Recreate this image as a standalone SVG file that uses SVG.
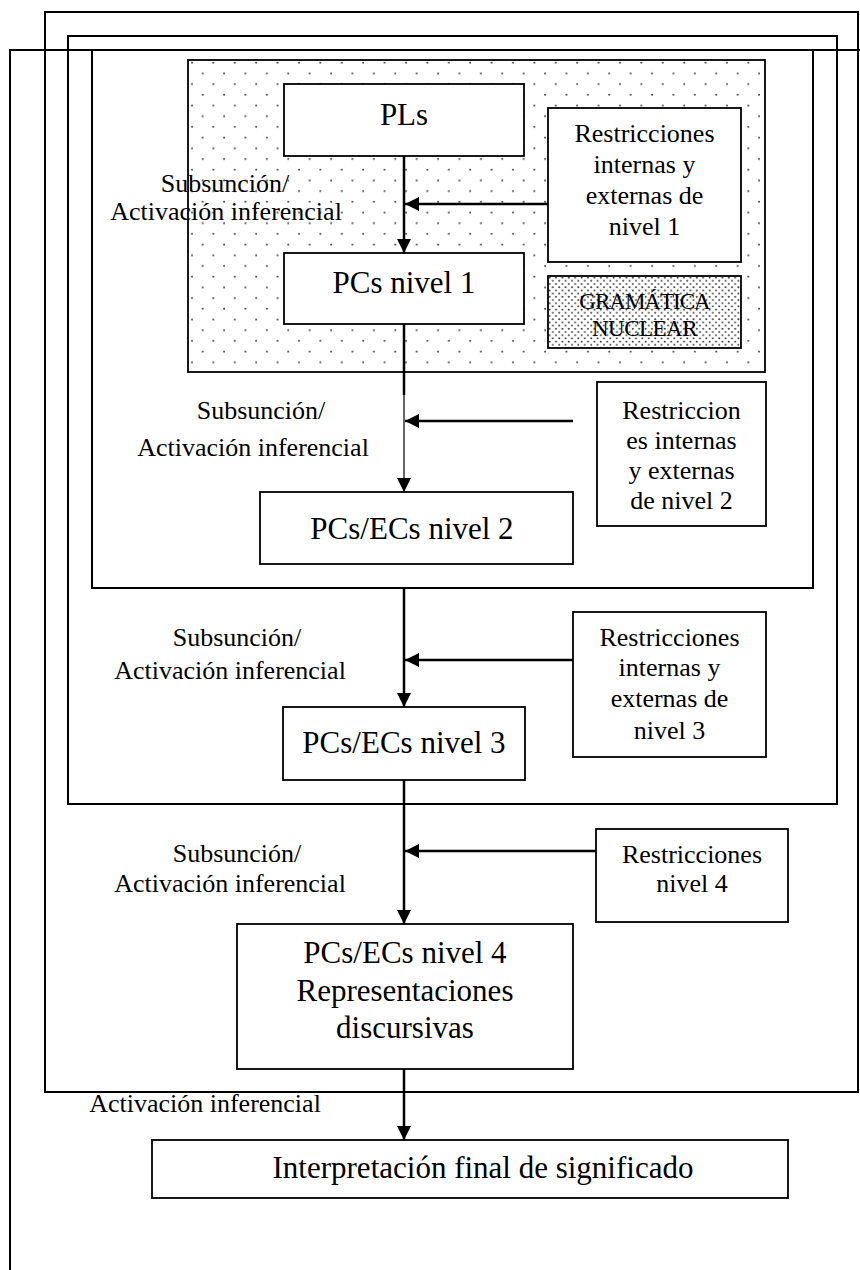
<svg xmlns="http://www.w3.org/2000/svg" width="860" height="1270" viewBox="0 0 860 1270">
<defs>
<pattern id="dots" x="188" y="60" width="21.4" height="21.4" patternUnits="userSpaceOnUse">
<rect x="0" y="0" width="21.4" height="21.4" fill="#fff"/>
<circle cx="4" cy="2.7" r="1" fill="#444"/>
<circle cx="14.7" cy="13.4" r="1" fill="#444"/>
</pattern>
<pattern id="densedots" x="548" y="276" width="6.4" height="6.4" patternUnits="userSpaceOnUse">
<rect x="0" y="0" width="6.4" height="6.4" fill="#fff"/>
<circle cx="1.6" cy="1.6" r="1" fill="#333"/>
<circle cx="4.8" cy="4.8" r="1" fill="#333"/>
</pattern>
<marker id="ah" viewBox="0 0 14 14" refX="14" refY="7" markerWidth="14" markerHeight="14" markerUnits="userSpaceOnUse" orient="auto">
<path d="M0,0 L14,7 L0,14 z" fill="#000"/>
</marker>
</defs>
<style>
.frame{fill:none;stroke:#000;stroke-width:2}
.box{fill:#fff;stroke:#000;stroke-width:1.8}
text{font-family:'Liberation Serif','DejaVu Serif',serif;fill:#000;text-anchor:middle}
.big{font-size:31px}
.mid{font-size:26px}
.lbl{font-size:26px}
.gram{font-size:23px}
.conn{stroke:#000;stroke-width:2.5;fill:none}
.thin{stroke:#000;stroke-width:1.2;fill:none}
</style>
<rect width="860" height="1270" fill="#fff"/>

<g id="frames">
<rect class="frame" x="45" y="12" width="813" height="1080"/>
<path class="frame" d="M10,1272 L10,50 L862,50"/>
<rect class="frame" x="68" y="36" width="769" height="768"/>
<rect class="frame" x="92" y="50" width="721" height="538"/>
</g>

<g id="nucleo">
<rect x="188" y="60" width="577" height="312" fill="url(#dots)" stroke="#000" stroke-width="1.8"/>
</g>

<g id="labels">
<text class="lbl" x="225" y="192">Subsunción/</text>
<text class="lbl" x="226" y="220">Activación inferencial</text>
<text class="lbl" x="261" y="419">Subsunción/</text>
<text class="lbl" x="253" y="456">Activación inferencial</text>
<text class="lbl" x="237" y="646">Subsunción/</text>
<text class="lbl" x="230" y="679">Activación inferencial</text>
<text class="lbl" x="237" y="862">Subsunción/</text>
<text class="lbl" x="230" y="892">Activación inferencial</text>
<text class="lbl" x="205" y="1112">Activación inferencial</text>
</g>

<g id="connectors">
<line class="conn" x1="404" y1="156" x2="404" y2="253" marker-end="url(#ah)"/>
<line class="conn" x1="548" y1="204" x2="405" y2="204" marker-end="url(#ah)"/>
<line class="conn" x1="404" y1="324" x2="404" y2="395"/>
<line class="thin" x1="404" y1="395" x2="404" y2="492" marker-end="url(#ah)"/>
<line class="conn" x1="573" y1="421" x2="405" y2="421" marker-end="url(#ah)"/>
<line class="conn" x1="404" y1="588" x2="404" y2="707" marker-end="url(#ah)"/>
<line class="conn" x1="573" y1="660" x2="405" y2="660" marker-end="url(#ah)"/>
<line class="conn" x1="404" y1="780" x2="404" y2="924" marker-end="url(#ah)"/>
<line class="conn" x1="596" y1="851" x2="405" y2="851" marker-end="url(#ah)"/>
<line class="conn" x1="404" y1="1069" x2="404" y2="1140" marker-end="url(#ah)"/>
</g>

<g id="pls">
<rect class="box" x="284" y="84" width="240" height="72"/>
<text class="big" x="404" y="125">PLs</text>
</g>

<g id="pcs1">
<rect class="box" x="284" y="253" width="240" height="71"/>
<text class="big" x="404" y="293">PCs nivel 1</text>
</g>

<g id="restr1">
<rect class="box" x="548" y="108" width="193" height="154"/>
<text class="mid" x="644.5" y="142">Restricciones</text>
<text class="mid" x="644.5" y="173">internas y</text>
<text class="mid" x="644.5" y="204">externas de</text>
<text class="mid" x="644.5" y="235">nivel 1</text>
</g>

<g id="gramatica">
<rect x="548" y="276" width="193" height="72" fill="url(#densedots)" stroke="#000" stroke-width="1.8"/>
<text class="gram" x="644.5" y="309" letter-spacing="-1">GRAMÁTICA</text>
<text class="gram" x="644.5" y="336" letter-spacing="-0.5">NUCLEAR</text>
</g>

<g id="restr2">
<rect class="box" x="597" y="382" width="169" height="144"/>
<text class="mid" x="681.5" y="419">Restriccion</text>
<text class="mid" x="681.5" y="449">es internas</text>
<text class="mid" x="681.5" y="479">y externas</text>
<text class="mid" x="681.5" y="509">de nivel 2</text>
</g>

<g id="pcs2">
<rect class="box" x="260" y="492" width="313" height="72"/>
<text class="big" x="412" y="539">PCs/ECs nivel 2</text>
</g>

<g id="restr3">
<rect class="box" x="573" y="612" width="193" height="145"/>
<text class="mid" x="669.5" y="646">Restricciones</text>
<text class="mid" x="669.5" y="676">internas y</text>
<text class="mid" x="669.5" y="707">externas de</text>
<text class="mid" x="669.5" y="739">nivel 3</text>
</g>

<g id="pcs3">
<rect class="box" x="283" y="707" width="242" height="73"/>
<text class="big" x="404" y="753">PCs/ECs nivel 3</text>
</g>

<g id="restr4">
<rect class="box" x="596" y="829" width="192" height="93"/>
<text class="mid" x="692" y="863">Restricciones</text>
<text class="mid" x="692" y="892">nivel 4</text>
</g>

<g id="pcs4">
<rect class="box" x="237" y="924" width="336" height="145"/>
<text class="big" x="405" y="963">PCs/ECs nivel 4</text>
<text class="big" x="405" y="1001">Representaciones</text>
<text class="big" x="405" y="1038">discursivas</text>
</g>

<g id="interp">
<rect class="box" x="152" y="1140" width="636" height="58"/>
<text class="big" x="483" y="1178">Interpretación final de significado</text>
</g>
</svg>
